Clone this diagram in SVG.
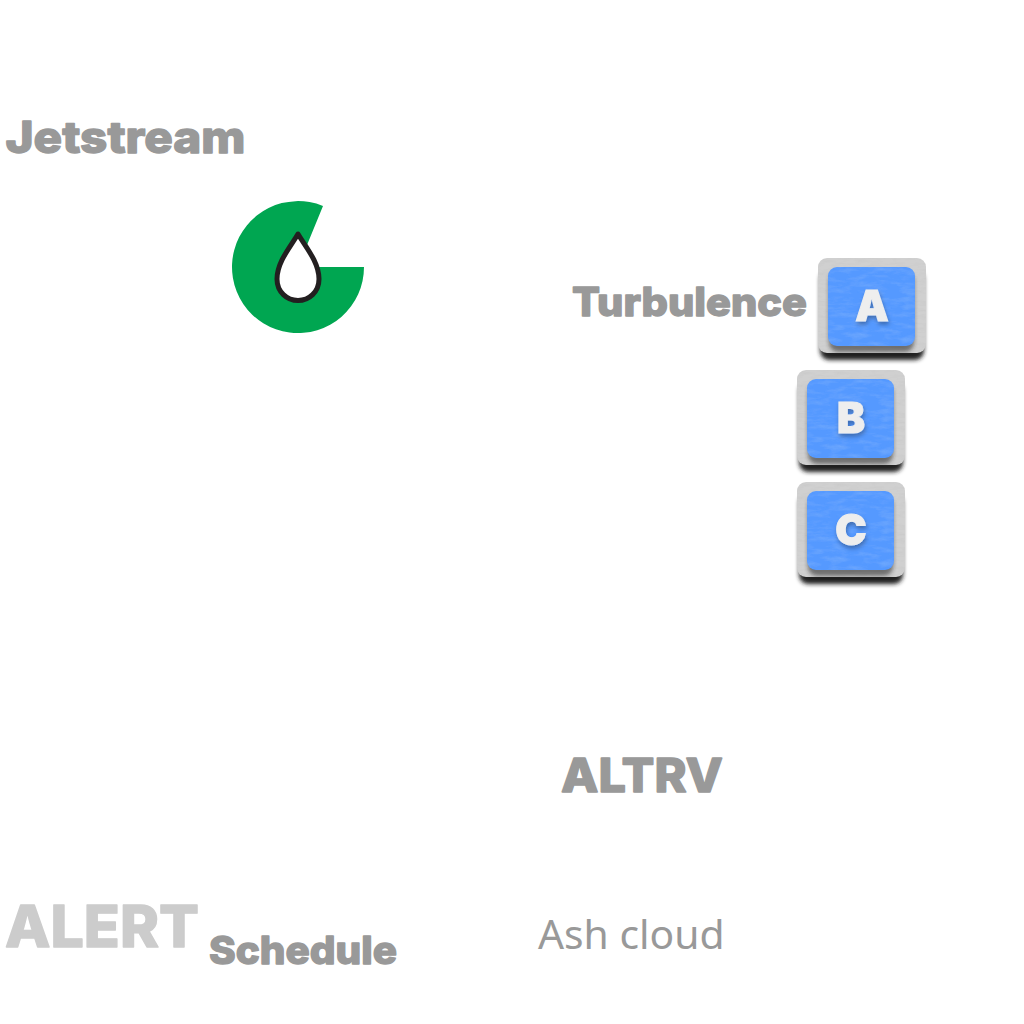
<svg xmlns="http://www.w3.org/2000/svg" width="1024" height="1024" viewBox="0 0 1024 1024">
<style>
.t{font-family:"Inter","Lato","Liberation Sans",sans-serif;font-weight:800;fill:#999;stroke:#999;stroke-width:1.300px;stroke-linejoin:round}
.k{font-family:"Inter","Lato","Liberation Sans",sans-serif;font-weight:900;font-size:42px;fill:#eee;stroke:#eee;stroke-width:1px;text-anchor:middle}
.base{fill:#d0d0d0;filter:url(#tex)}
.top{fill:#5599ff;filter:url(#tex2)}
.rim{fill:#222;filter:url(#blur)}
</style>
<defs>
<filter id="blur" x="-10%" y="-10%" width="120%" height="120%"><feGaussianBlur stdDeviation="2.200"/></filter>
<filter id="txs" x="-20%" y="-20%" width="140%" height="140%"><feDropShadow dx="1" dy="3" stdDeviation="2" flood-color="#000" flood-opacity=".3"/></filter>
<filter id="tex" x="0" y="0" width="100%" height="100%"><feTurbulence type="fractalNoise" baseFrequency=".08 .4" numOctaves="3" seed="3"/><feColorMatrix values="0 0 0 0 .55 0 0 0 0 .55 0 0 0 0 .55 .9 0 0 0 -.38"/><feComposite in2="SourceGraphic" operator="in" result="n"/><feMerge><feMergeNode in="SourceGraphic"/><feMergeNode in="n"/></feMerge></filter>
<filter id="tex2" x="0" y="0" width="100%" height="100%"><feTurbulence type="fractalNoise" baseFrequency=".06 .2" numOctaves="4" seed="8"/><feColorMatrix values="0 0 0 0 .3 0 0 0 0 .55 0 0 0 0 .95 .6 0 0 0 -.25"/><feComposite in2="SourceGraphic" operator="in" result="n"/><feMerge><feMergeNode in="SourceGraphic"/><feMergeNode in="n"/></feMerge></filter>
<g id="keycap">
<rect class="rim" x="2" y="12" width="104" height="90" rx="9"/>
<rect class="base" x="0" y="0" width="108" height="95" rx="9"/>
<rect class="rim" x="11" y="14" width="85" height="80" rx="9" opacity=".55"/>
<rect class="top" x="10" y="9" width="87" height="79" rx="9"/>
</g>
</defs>
<text id="jetstream" class="t" x="5.500" y="153" font-size="44" textLength="240" lengthAdjust="spacingAndGlyphs">Jetstream</text>
<g id="drop-icon">
<path d="M298 267L323 206A66 66 0 1 0 364 267Z" fill="#00a651"/>
<path d="M298 234C291 246 277 262 277 279C277 292 287 300.500 298 300.500C309 300.500 319 292 319 279C319 262 305 246 298 234Z" fill="#fff" stroke="#231f20" stroke-width="5" stroke-linejoin="round"/>
</g>
<text id="turbulence" class="t" x="572" y="316" font-size="39" textLength="235" lengthAdjust="spacingAndGlyphs">Turbulence</text>
<g id="key-a"><use href="#keycap" x="818" y="258"/><text class="k" x="872" y="321" filter="url(#txs)">A</text></g>
<g id="key-b"><use href="#keycap" x="797" y="370"/><text class="k" x="851" y="433" filter="url(#txs)">B</text></g>
<g id="key-c"><use href="#keycap" x="797" y="482"/><text class="k" x="851" y="545" filter="url(#txs)">C</text></g>
<text id="altrv" class="t" x="561" y="792" font-size="47" textLength="162" lengthAdjust="spacingAndGlyphs">ALTRV</text>
<text id="alert" class="t" x="5" y="947" font-size="58" textLength="194" lengthAdjust="spacingAndGlyphs" style="fill:#ccc;stroke:#ccc">ALERT</text>
<text id="schedule" class="t" x="209" y="964" font-size="38" textLength="188" lengthAdjust="spacingAndGlyphs">Schedule</text>
<text id="ash" x="538" y="949" font-size="40.800" fill="#999" font-family="'Noto Sans','Open Sans',sans-serif">Ash cloud</text>
</svg>
